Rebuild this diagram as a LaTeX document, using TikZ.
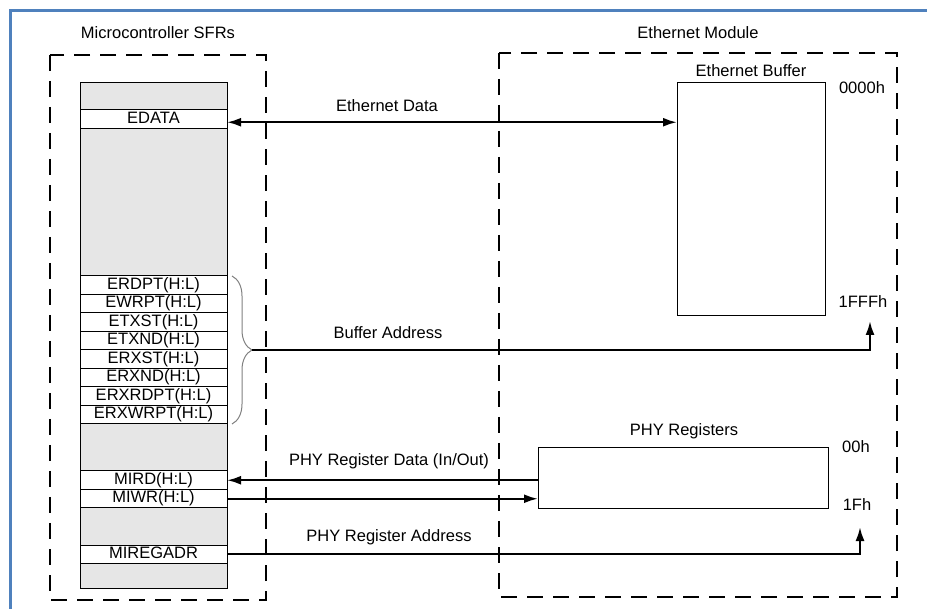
\documentclass[tikz,border=0pt]{standalone}
\usepackage{fontspec}
\setmainfont{Liberation Sans}
\usepackage{xcolor}
\usepackage{tikz}
\usetikzlibrary{arrows.meta}
\usetikzlibrary{calc}
\usetikzlibrary{positioning}
\usetikzlibrary{decorations.pathreplacing}
\definecolor{frameblue}{RGB}{79,129,189}
\definecolor{regfill}{RGB}{230,230,230}

\begin{document}
\begin{tikzpicture}[x=1pt,y=-1pt,-,font=\fontsize{16.5}{18}\selectfont]
	\tikzstyle{reg}=[draw, line width=1pt, minimum width=147pt, minimum height=18.5pt, inner sep=0pt, outer sep=0pt, text height=12pt, text depth=3.5pt, fill=white]
	\tikzstyle{gap}=[reg, fill=regfill]
	\tikzstyle{group}=[draw, line width=1.2pt, dash pattern=on 16pt off 10pt]
	\tikzstyle{mem}=[draw, line width=1pt, inner sep=0pt, outer sep=0pt]
	\tikzstyle{bus}=[line width=2.2pt]
	\tikzstyle{tip}=[-{Latex[length=14pt,width=9pt]}]
	\tikzstyle{tips}=[{Latex[length=14pt,width=9pt]}-{Latex[length=14pt,width=9pt]}]
	\useasboundingbox (0,0) rectangle (927,609);
	\draw[frameblue, line width=3pt] (10.5,609) -- (10.5,10.5) -- (927,10.5);

	\node (mcu title) at (158,33) {Microcontroller SFRs};
	\node (eth title) at (698,33) {Ethernet Module};
	\draw[group] (50,55) rectangle (266,600);
	\draw[group] (499,53) rectangle (897,597);

	\node[gap, minimum height=27pt, anchor=north] (g1) at (153.5,83) {};
	\node[reg] (edata) [below=0pt of g1] {EDATA};
	\node[gap, minimum height=147.5pt] (g2) [below=0pt of edata] {};
	\node[reg] (erdpt) [below=0pt of g2] {ERDPT(H:L)};
	\node[reg] (ewrpt) [below=0pt of erdpt] {EWRPT(H:L)};
	\node[reg] (etxst) [below=0pt of ewrpt] {ETXST(H:L)};
	\node[reg] (etxnd) [below=0pt of etxst] {ETXND(H:L)};
	\node[reg] (erxst) [below=0pt of etxnd] {ERXST(H:L)};
	\node[reg] (erxnd) [below=0pt of erxst] {ERXND(H:L)};
	\node[reg] (erxrdpt) [below=0pt of erxnd] {ERXRDPT(H:L)};
	\node[reg] (erxwrpt) [below=0pt of erxrdpt] {ERXWRPT(H:L)};
	\node[gap, minimum height=47pt] (g3) [below=0pt of erxwrpt] {};
	\node[reg] (mird) [below=0pt of g3] {MIRD(H:L)};
	\node[reg] (miwr) [below=0pt of mird] {MIWR(H:L)};
	\node[gap, minimum height=37pt] (g4) [below=0pt of miwr] {};
	\node[reg] (miregadr) [below=0pt of g4] {MIREGADR};
	\node[gap, minimum height=24.5pt] (g5) [below=0pt of miregadr] {};

	\node[mem, minimum width=148pt, minimum height=233pt, anchor=north west] (ebuf) at (677,83) {};
	\node (ebuf label) [above=3pt of ebuf] {Ethernet Buffer};
	\node (ebuf top) at (862,88) {0000h};
	\node (ebuf bottom) at (863,302) {1FFFh};
	\node[mem, minimum width=290pt, minimum height=61pt, anchor=north west] (phy) at (538,448) {};
	\node (phy label) at (684,431) {PHY Registers};
	\node (phy top) at (856,447) {00h};
	\node (phy bottom) at (857,505) {1Fh};

	\draw[gray, line width=1pt, decorate, decoration={brace, amplitude=20pt}] ([xshift=5pt]erdpt.north east) -- ([xshift=5pt]erxwrpt.south east);
	\coordinate (btip) at ($(erdpt.north east)!0.5!(erxwrpt.south east)+(25pt,0)$);
	\coordinate (fffh) at (870,321);
	\coordinate (edata port) at ([yshift=-3pt]edata.east);
	\coordinate (phy addr) at (860,527);

	\draw[bus, tips] (edata port) -- (edata port -| ebuf.west);
	\draw[bus, tip] (btip) -| (fffh);
	\draw[bus, tip] (mird.east -| phy.west) -- (mird.east);
	\draw[bus, tip] (miwr.east) -- (miwr.east -| phy.west);
	\draw[bus, tip] (miregadr.east) -| (phy addr);

	\node (data label) at (387,106) {Ethernet Data};
	\node (addr label) at (388,333) {Buffer Address};
	\node (phy data label) at (389,461) {PHY Register Data (In/Out)};
	\node (phy addr label) at (389,537) {PHY Register Address};
\end{tikzpicture}
\end{document}
